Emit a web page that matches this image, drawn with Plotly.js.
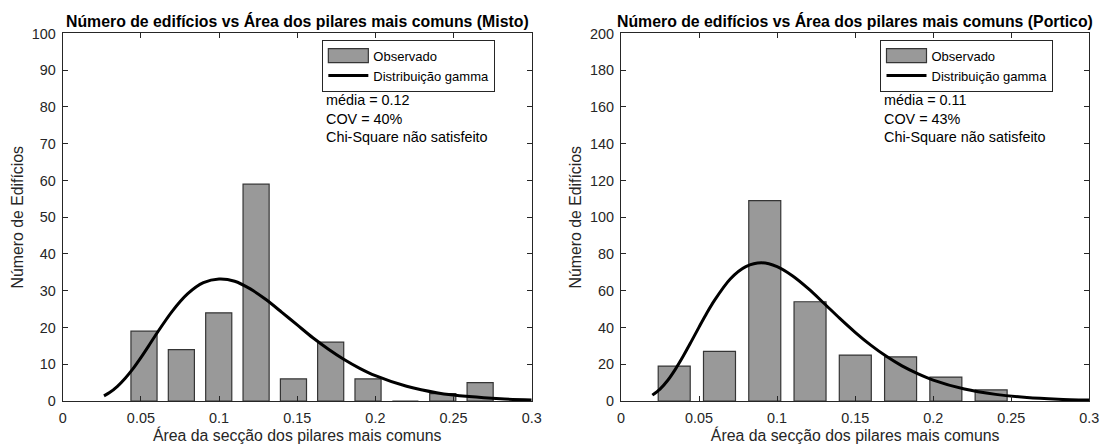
<!DOCTYPE html>
<html>
<head>
<meta charset="utf-8">
<script src="https://cdn.plot.ly/plotly-3.0.1.min.js"></script>
<style>
  html, body { margin: 0; padding: 0; background: #ffffff; }
  #chart { width: 1102px; height: 446px; }
</style>
</head>
<body>
<div id="chart"></div>
<script>
// Misto: histogram bins (centres) and building counts
const mistoBinCenters = [0.0520, 0.0759, 0.0998, 0.1237, 0.1476, 0.1714, 0.1953, 0.2192, 0.2431, 0.2670];
const mistoCounts = [19, 14, 24, 59, 6, 16, 6, 0, 2, 5];
// Misto: fitted gamma curve (média 0.12, COV 40%), scaled to counts
const mistoFitX = [0.0264, 0.030, 0.035, 0.040, 0.045, 0.050, 0.055, 0.060, 0.070, 0.080, 0.090, 0.100, 0.110, 0.120, 0.130, 0.140, 0.150, 0.160, 0.170, 0.180, 0.190, 0.200, 0.220, 0.240, 0.260, 0.280, 0.300];
const mistoFitY = [1.4, 2.3, 4.0, 6.2, 8.8, 11.8, 15.0, 18.3, 24.4, 29.2, 32.2, 33.2, 32.6, 30.5, 27.6, 24.2, 20.7, 17.2, 14.1, 11.3, 8.9, 6.9, 4.0, 2.2, 1.2, 0.6, 0.3];

// Portico: histogram bins (centres) and building counts
const porticoBinCenters = [0.0341, 0.0631, 0.0921, 0.1211, 0.1501, 0.1791, 0.2081, 0.2371];
const porticoCounts = [19, 27, 109, 54, 25, 24, 13, 6];
// Portico: fitted gamma curve (média 0.11, COV 43%), scaled to counts
const porticoFitX = [0.0201, 0.025, 0.030, 0.035, 0.040, 0.045, 0.050, 0.055, 0.060, 0.070, 0.080, 0.090, 0.100, 0.110, 0.120, 0.130, 0.140, 0.150, 0.160, 0.170, 0.180, 0.190, 0.200, 0.220, 0.240, 0.260, 0.280, 0.300];
const porticoFitY = [3.2, 6.5, 11.3, 17.5, 24.6, 32.3, 40.2, 47.9, 54.9, 66.4, 73.1, 75.2, 73.1, 68.0, 61.1, 53.2, 45.1, 37.4, 30.4, 24.3, 19.1, 14.9, 11.4, 6.5, 3.6, 1.9, 1.0, 0.5];

// Axis ticks
const xTickVals = [0, 0.05, 0.1, 0.15, 0.2, 0.25, 0.3];
const xTickText = ['0', '0.05', '0.1', '0.15', '0.2', '0.25', '0.3'];
const yTickValsMisto = [0, 10, 20, 30, 40, 50, 60, 70, 80, 90, 100];
const yTickValsPortico = [0, 20, 40, 60, 80, 100, 120, 140, 160, 180, 200];

// Texts
const titleMisto = 'Número de edifícios vs Área dos pilares mais comuns (Misto)';
const titlePortico = 'Número de edifícios vs Área dos pilares mais comuns (Portico)';
const xLabel = 'Área da secção dos pilares mais comuns';
const yLabel = 'Número de Edifícios';
const seriesNames = ['Observado', 'Distribuição gamma'];
const statsMisto = ['média = 0.12', 'COV = 40%', 'Chi-Square não satisfeito'];
const statsPortico = ['média = 0.11', 'COV = 43%', 'Chi-Square não satisfeito'];

const FONT = '"Liberation Sans", Arial, Helvetica, sans-serif';
const AXIS_COLOR = '#262626';
const BAR_FILL = '#999999';
const BAR_EDGE = '#353535';
const BASE_SIZE = 14.4;

function barTrace(x, y, width, xa, ya, legend) {
  return {
    type: 'bar', x: x, y: y, width: width,
    xaxis: xa, yaxis: ya, legend: legend,
    name: seriesNames[0],
    marker: { color: BAR_FILL, line: { color: BAR_EDGE, width: 1.2 } },
    hoverinfo: 'x+y'
  };
}

function fitTrace(x, y, xa, ya, legend) {
  return {
    type: 'scatter', mode: 'lines', x: x, y: y,
    xaxis: xa, yaxis: ya, legend: legend,
    name: seriesNames[1],
    line: { color: '#000000', width: 3, shape: 'spline', smoothing: 0.8 },
    hoverinfo: 'x+y'
  };
}

function xAxis(domain, anchor) {
  return {
    domain: domain, anchor: anchor, range: [0, 0.3],
    tickmode: 'array', tickvals: xTickVals, ticktext: xTickText,
    showline: true, mirror: 'ticks', linecolor: AXIS_COLOR, linewidth: 1,
    ticks: 'inside', ticklen: 5, tickwidth: 1, tickcolor: AXIS_COLOR,
    ticklabelstandoff: 4,
    showgrid: false, zeroline: false, fixedrange: true,
    tickfont: { family: FONT, size: BASE_SIZE, color: AXIS_COLOR },
    title: { text: xLabel, font: { family: FONT, size: BASE_SIZE * 1.1, color: AXIS_COLOR }, standoff: 2 }
  };
}

function yAxis(domain, anchor, maxVal, ticks) {
  return {
    domain: domain, anchor: anchor, range: [0, maxVal],
    tickmode: 'array', tickvals: ticks,
    showline: true, mirror: 'ticks', linecolor: AXIS_COLOR, linewidth: 1,
    ticks: 'inside', ticklen: 5, tickwidth: 1, tickcolor: AXIS_COLOR,
    ticklabelstandoff: 3,
    showgrid: false, zeroline: false, fixedrange: true,
    tickfont: { family: FONT, size: BASE_SIZE, color: AXIS_COLOR },
    title: { text: yLabel, font: { family: FONT, size: BASE_SIZE * 1.1, color: AXIS_COLOR }, standoff: 4 }
  };
}

function legendBox(x) {
  return {
    x: x, y: 0.911, xanchor: 'left', yanchor: 'top',
    xref: 'paper', yref: 'paper',
    bgcolor: '#ffffff', bordercolor: AXIS_COLOR, borderwidth: 1,
    font: { family: FONT, size: 13, color: '#000000' },
    itemwidth: 40, traceorder: 'normal', tracegroupgap: 0
  };
}

function titleNote(text, xa, ya) {
  return {
    text: '<b>' + text + '</b>', xref: xa + ' domain', yref: ya + ' domain',
    x: 0.5, y: 1, xanchor: 'center', yanchor: 'bottom', yshift: 1,
    showarrow: false, font: { family: FONT, size: BASE_SIZE * 1.1, color: '#000000' }
  };
}

function statsNote(lines, xa, ya) {
  return {
    text: lines.join('<br>'), xref: xa + ' domain', yref: ya + ' domain',
    x: 0.557, y: 0.845, xanchor: 'left', yanchor: 'top', align: 'left',
    showarrow: false, font: { family: FONT, size: BASE_SIZE, color: '#000000' }
  };
}

const data = [
  barTrace(mistoBinCenters, mistoCounts, 0.0167, 'x', 'y', 'legend'),
  fitTrace(mistoFitX, mistoFitY, 'x', 'y', 'legend'),
  barTrace(porticoBinCenters, porticoCounts, 0.0205, 'x2', 'y2', 'legend2'),
  fitTrace(porticoFitX, porticoFitY, 'x2', 'y2', 'legend2')
];

const layout = {
  width: 1102, height: 446,
  margin: { l: 0, r: 0, t: 0, b: 0 },
  paper_bgcolor: '#ffffff', plot_bgcolor: '#ffffff',
  font: { family: FONT, color: AXIS_COLOR },
  showlegend: true,
  bargap: 0,
  xaxis: xAxis([0.0569, 0.4825], 'y'),
  yaxis: yAxis([0.1009, 0.9249], 'x', 100, yTickValsMisto),
  xaxis2: xAxis([0.5635, 0.9885], 'y2'),
  yaxis2: yAxis([0.1009, 0.9249], 'x2', 200, yTickValsPortico),
  legend: legendBox(0.2925),
  legend2: legendBox(0.7990),
  annotations: [
    titleNote(titleMisto, 'x', 'y'),
    titleNote(titlePortico, 'x2', 'y2'),
    statsNote(statsMisto, 'x', 'y'),
    statsNote(statsPortico, 'x2', 'y2')
  ]
};

// Stretch the square bar swatch in each legend into a flat rectangle
function widenBarSwatches(gd) {
  gd.querySelectorAll('g.legendpoints path').forEach(function (p) {
    var d = p.getAttribute('d') || '';
    if (d.indexOf('M6,6') === 0) p.setAttribute('d', 'M20,7H-20V-7H20Z');
  });
}

Plotly.newPlot('chart', data, layout, { displayModeBar: false, staticPlot: true }).then(function (gd) {
  widenBarSwatches(gd);
  gd.on('plotly_afterplot', function () { widenBarSwatches(gd); });
  setTimeout(function () { widenBarSwatches(gd); }, 0);
});
</script>
</body>
</html>
